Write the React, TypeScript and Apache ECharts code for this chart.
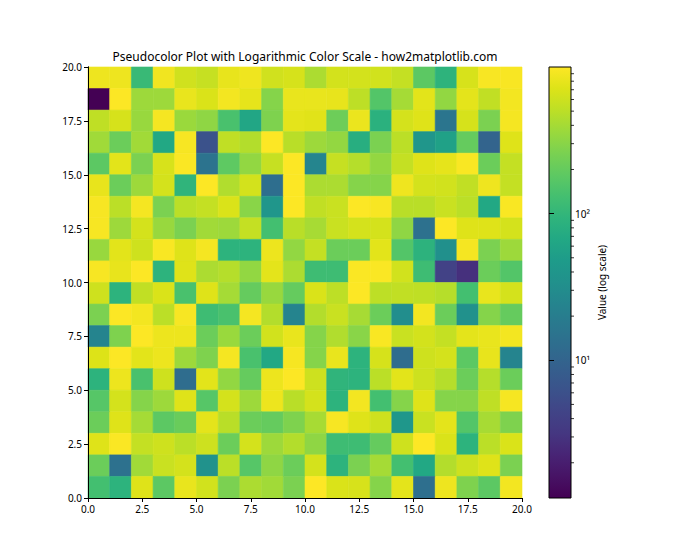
import React, { useEffect, useRef } from 'react';
import * as echarts from 'echarts';

const TITLE = 'Pseudocolor Plot with Logarithmic Color Scale - how2matplotlib.com';
const COLORBAR_LABEL = 'Value (log scale)';
const FONT = 'Noto Sans';

const X_MIN = 0;
const X_MAX = 20;
const TICK_STEP = 2.5;
const VMIN = 1.15;
const VMAX = 1000;
const MAJOR_TICKS = [10, 100];
const MINOR_TICKS = [2, 3, 4, 5, 6, 7, 8, 9, 20, 30, 40, 50, 60, 70, 80, 90, 200, 300, 400, 500, 600, 700, 800, 900];

const VIRIDIS = [
  '#440154', '#471365', '#482475', '#453781', '#414487', '#3b528b', '#355f8d',
  '#2f6c8e', '#2a788e', '#25848e', '#21918c', '#1e9b8a', '#22a884', '#2fb47c',
  '#44bf70', '#5ec962', '#7ad151', '#9bd93c', '#bddf26', '#dde318', '#fde725',
];

// Rows listed from the top of the plot (y = 19..20) down to the bottom (y = 0..1)
const row19 = [850, 850, 110, 880, 620, 560, 800, 860, 620, 660, 430, 640, 640, 630, 550, 180, 92, 670, 950, 950];
const row18 = [1.15, 990, 370, 370, 810, 690, 900, 780, 290, 810, 810, 800, 510, 160, 400, 760, 330, 770, 530, 900];
const row17 = [520, 660, 350, 920, 360, 320, 140, 64, 270, 770, 740, 220, 830, 85, 650, 730, 16, 660, 260, 920];
const row16 = [380, 215, 385, 66, 940, 6.2, 525, 460, 990, 490, 370, 335, 78, 260, 500, 40, 55, 200, 10, 730];
const row15 = [180, 760, 260, 670, 970, 15, 185, 330, 560, 990, 25, 560, 470, 335, 545, 730, 780, 960, 215, 545];
const row14 = [800, 215, 370, 650, 95, 990, 450, 640, 13, 990, 430, 430, 290, 290, 860, 650, 630, 530, 860, 545];
const row13 = [940, 500, 920, 260, 500, 545, 690, 300, 40, 990, 530, 580, 990, 950, 490, 490, 580, 500, 66, 960];
const row12 = [940, 370, 650, 350, 260, 385, 370, 545, 130, 490, 410, 580, 650, 650, 320, 14, 990, 730, 730, 650];
const row11 = [350, 760, 610, 960, 730, 920, 90, 90, 840, 330, 545, 215, 215, 760, 160, 88, 33, 920, 260, 370];
const row10 = [940, 800, 990, 90, 730, 430, 470, 330, 770, 430, 120, 120, 970, 970, 630, 120, 4.2, 2.8, 215, 160];
const row9 = [610, 90, 530, 690, 140, 730, 400, 200, 350, 200, 690, 510, 990, 510, 530, 520, 475, 130, 810, 650];
const row8 = [260, 990, 900, 500, 940, 120, 140, 920, 460, 24, 460, 580, 410, 215, 31, 900, 215, 34, 290, 200];
const row7 = [24, 270, 990, 840, 840, 215, 355, 215, 630, 810, 290, 450, 300, 960, 580, 640, 545, 770, 810, 900];
const row6 = [710, 990, 760, 840, 370, 270, 920, 140, 66, 930, 290, 810, 90, 660, 12.5, 610, 650, 180, 800, 24];
const row5 = [90, 840, 140, 610, 12.5, 760, 330, 200, 840, 990, 600, 95, 90, 500, 760, 600, 470, 215, 470, 215];
const row4 = [165, 650, 290, 370, 730, 165, 650, 370, 840, 490, 650, 90, 900, 130, 290, 730, 290, 290, 520, 930];
const row3 = [215, 730, 400, 180, 210, 770, 490, 215, 200, 270, 410, 940, 730, 610, 42, 580, 770, 160, 410, 270];
const row2 = [730, 970, 545, 610, 500, 600, 215, 650, 370, 460, 320, 120, 120, 200, 610, 1000, 690, 90, 500, 690];
const row1 = [215, 14, 385, 580, 650, 35, 500, 165, 320, 215, 650, 90, 260, 400, 130, 66, 460, 600, 730, 260];
const row0 = [130, 90, 730, 180, 810, 630, 260, 430, 385, 260, 1000, 690, 670, 290, 770, 13.5, 850, 270, 180, 900];

const ROWS_TOP_DOWN = [row19, row18, row17, row16, row15, row14, row13, row12, row11, row10,
  row9, row8, row7, row6, row5, row4, row3, row2, row1, row0];

const SUP: Record<string, string> = { '0': '⁰', '1': '¹', '2': '²', '3': '³' };

export default function App() {
  const ref = useRef<HTMLDivElement>(null);

  useEffect(() => {
    if (!ref.current) return;
    const chart = echarts.init(ref.current, null, { renderer: 'svg' });

    const nRows = ROWS_TOP_DOWN.length;
    const cells: number[][] = [];
    ROWS_TOP_DOWN.forEach((row, r) => {
      const y = nRows - 1 - r;
      row.forEach((v, x) => {
        cells.push([x, y, Math.log10(v), v]);
      });
    });

    const logMin = Math.log10(VMIN);
    const logMax = Math.log10(VMAX);
    const stops = VIRIDIS.map((c, i) => ({ offset: i / (VIRIDIS.length - 1), color: c }));

    const textBase = { fontFamily: FONT, color: '#000' };

    const mainAxisCommon = {
      type: 'value' as const,
      min: X_MIN,
      max: X_MAX,
      interval: TICK_STEP,
      splitLine: { show: false },
      axisLine: { show: true, lineStyle: { color: '#000', width: 1 } },
      axisTick: { show: true, length: 4, lineStyle: { color: '#000' } },
      axisLabel: { ...textBase, fontSize: 10, formatter: (v: number) => v.toFixed(1) },
      z: 5,
    };

    const option: any = {
      animation: false,
      backgroundColor: '#fff',
      grid: [
        { left: 88, top: 67, width: 434, height: 431, show: false },
        { left: 549, top: 67, width: 22, height: 431, show: false },
      ],
      xAxis: [
        { ...mainAxisCommon, gridIndex: 0, position: 'bottom', axisLabel: { ...mainAxisCommon.axisLabel, margin: 6 } },
        { type: 'value', gridIndex: 1, min: 0, max: 1, show: false },
        { ...mainAxisCommon, gridIndex: 0, position: 'top', axisTick: { show: false }, axisLabel: { show: false } },
      ],
      yAxis: [
        { ...mainAxisCommon, gridIndex: 0, position: 'left', axisLabel: { ...mainAxisCommon.axisLabel, margin: 6 } },
        {
          type: 'value',
          gridIndex: 1,
          min: logMin,
          max: logMax,
          position: 'right',
          splitLine: { show: false },
          axisLine: { show: false },
          axisTick: {
            show: true,
            length: 5,
            lineStyle: { color: '#000' },
            customValues: MAJOR_TICKS.map((v) => Math.log10(v)),
          },
          axisLabel: {
            ...textBase,
            fontSize: 10,
            margin: 4,
            customValues: MAJOR_TICKS.map((v) => Math.log10(v)),
            formatter: (v: number) => '10' + (SUP[String(Math.round(v))] || ''),
          },
          name: COLORBAR_LABEL,
          nameLocation: 'middle',
          nameRotate: 90,
          nameGap: 26,
          nameTextStyle: { ...textBase, fontSize: 10 },
          z: 5,
        },
        { ...mainAxisCommon, gridIndex: 0, position: 'right', axisTick: { show: false }, axisLabel: { show: false } },
      ],
      visualMap: {
        type: 'continuous',
        show: false,
        min: logMin,
        max: logMax,
        dimension: 2,
        seriesIndex: 0,
        inRange: { color: VIRIDIS },
      },
      graphic: [
        {
          type: 'text',
          x: 305,
          y: 56,
          style: {
            text: TITLE,
            fontFamily: FONT,
            fontSize: 12,
            fill: '#000',
            textAlign: 'center',
            textVerticalAlign: 'middle',
          },
        },
      ],
      series: [
        {
          type: 'custom',
          xAxisIndex: 0,
          yAxisIndex: 0,
          encode: { x: 0, y: 1 },
          data: cells,
          renderItem: (params: any, api: any) => {
            const x = api.value(0);
            const y = api.value(1);
            const p0 = api.coord([x, y + 1]);
            const p1 = api.coord([x + 1, y]);
            const c = api.visual('color');
            return {
              type: 'rect',
              shape: { x: p0[0], y: p0[1], width: p1[0] - p0[0], height: p1[1] - p0[1] },
              style: { fill: c, stroke: c, lineWidth: 0.6 },
            };
          },
        },
        {
          type: 'custom',
          xAxisIndex: 1,
          yAxisIndex: 1,
          encode: { x: 0, y: [1, 2] },
          data: [[0, logMin, logMax]],
          renderItem: (params: any, api: any) => {
            const top = api.coord([0, api.value(2)]);
            const bot = api.coord([1, api.value(1)]);
            return {
              type: 'rect',
              shape: { x: top[0], y: top[1], width: bot[0] - top[0], height: bot[1] - top[1] },
              style: {
                fill: new echarts.graphic.LinearGradient(0, 1, 0, 0, stops),
                stroke: '#000',
                lineWidth: 1,
              },
            };
          },
        },
        {
          type: 'custom',
          xAxisIndex: 1,
          yAxisIndex: 1,
          encode: { x: 0, y: 1 },
          clip: false,
          data: MINOR_TICKS.map((v) => [1, Math.log10(v)]),
          renderItem: (params: any, api: any) => {
            const p = api.coord([api.value(0), api.value(1)]);
            return {
              type: 'line',
              shape: { x1: p[0], y1: p[1], x2: p[0] + 3, y2: p[1] },
              style: { stroke: '#000', lineWidth: 0.8 },
            };
          },
        },
      ],
    };

    chart.setOption(option);
    return () => chart.dispose();
  }, []);

  return (
    <div
      ref={ref}
      style={{ position: 'fixed', left: 0, top: 0, width: 700, height: 560, background: '#fff' }}
    />
  );
}
